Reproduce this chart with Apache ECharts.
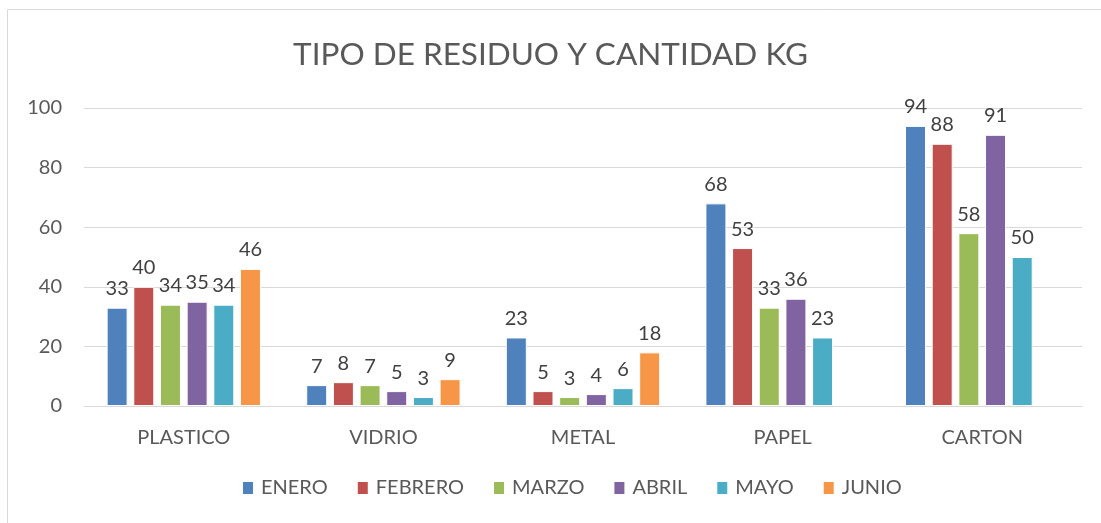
<!DOCTYPE html>
<html>
<head>
<meta charset="utf-8">
<script src="https://cdn.jsdelivr.net/npm/echarts@6/dist/echarts.min.js"></script>
<style>
  html, body { margin: 0; padding: 0; background: #fff; }
  #chart { width: 1101px; height: 523px; }
</style>
</head>
<body>
<div id="chart"></div>
<script>
// Waste type and quantity (kg) per month
const categories = ['PLASTICO', 'VIDRIO', 'METAL', 'PAPEL', 'CARTON'];
const months = ['ENERO', 'FEBRERO', 'MARZO', 'ABRIL', 'MAYO', 'JUNIO'];

const enero   = [33, 7, 23, 68, 94];
const febrero = [40, 8, 5, 53, 88];
const marzo   = [34, 7, 3, 33, 58];
const abril   = [35, 5, 4, 36, 91];
const mayo    = [34, 3, 6, 23, 50];
const junio   = [46, 9, 18, null, null];

const seriesValues = [enero, febrero, marzo, abril, mayo, junio];
const colors = ['#4F81BD', '#C0504D', '#9BBB59', '#8064A2', '#4BACC6', '#F79646'];

const FONT = 'Lato';
const TEXT = '#595959';

const chart = echarts.init(document.getElementById('chart'));

chart.setOption({
  animation: false,
  textStyle: { fontFamily: FONT },
  graphic: [{
    type: 'rect',
    shape: { x: 7.5, y: 9.5, width: 1120, height: 540 },
    style: { fill: 'none', stroke: '#d9d9d9', lineWidth: 1 },
    silent: true
  }],
  title: {
    text: 'TIPO DE RESIDUO Y CANTIDAD KG',
    left: 'center',
    top: 34,
    textStyle: { fontFamily: FONT, fontSize: 31.5, fontWeight: 'normal', color: TEXT }
  },
  legend: {
    data: months,
    bottom: 20,
    left: 236,
    itemWidth: 12,
    itemHeight: 14,
    itemGap: 28,
    icon: 'rect',
    textStyle: { fontFamily: FONT, fontSize: 20, color: TEXT, padding: [0, 0, 0, 2] }
  },
  grid: { left: 84, right: 19, top: 108, bottom: 117 },
  xAxis: {
    type: 'category',
    data: categories,
    axisTick: { show: false },
    axisLine: { lineStyle: { color: '#d9d9d9', width: 1 } },
    axisLabel: { color: TEXT, fontSize: 20, fontFamily: FONT, margin: 22 }
  },
  yAxis: {
    type: 'value',
    min: 0,
    max: 100,
    interval: 20,
    axisLine: { show: false },
    axisTick: { show: false },
    splitLine: { lineStyle: { color: '#d9d9d9', width: 1 } },
    axisLabel: { color: TEXT, fontSize: 20, fontFamily: FONT, margin: 22 }
  },
  series: months.map((m, i) => ({
    name: m,
    type: 'bar',
    data: seriesValues[i],
    barWidth: 21,
    barGap: '27%',
    itemStyle: { color: colors[i], borderColor: '#ffffff', borderWidth: 1 },
    label: {
      show: true,
      position: 'top',
      distance: 9,
      color: '#404040',
      fontSize: 20,
      fontFamily: FONT
    }
  }))
});
</script>
</body>
</html>
